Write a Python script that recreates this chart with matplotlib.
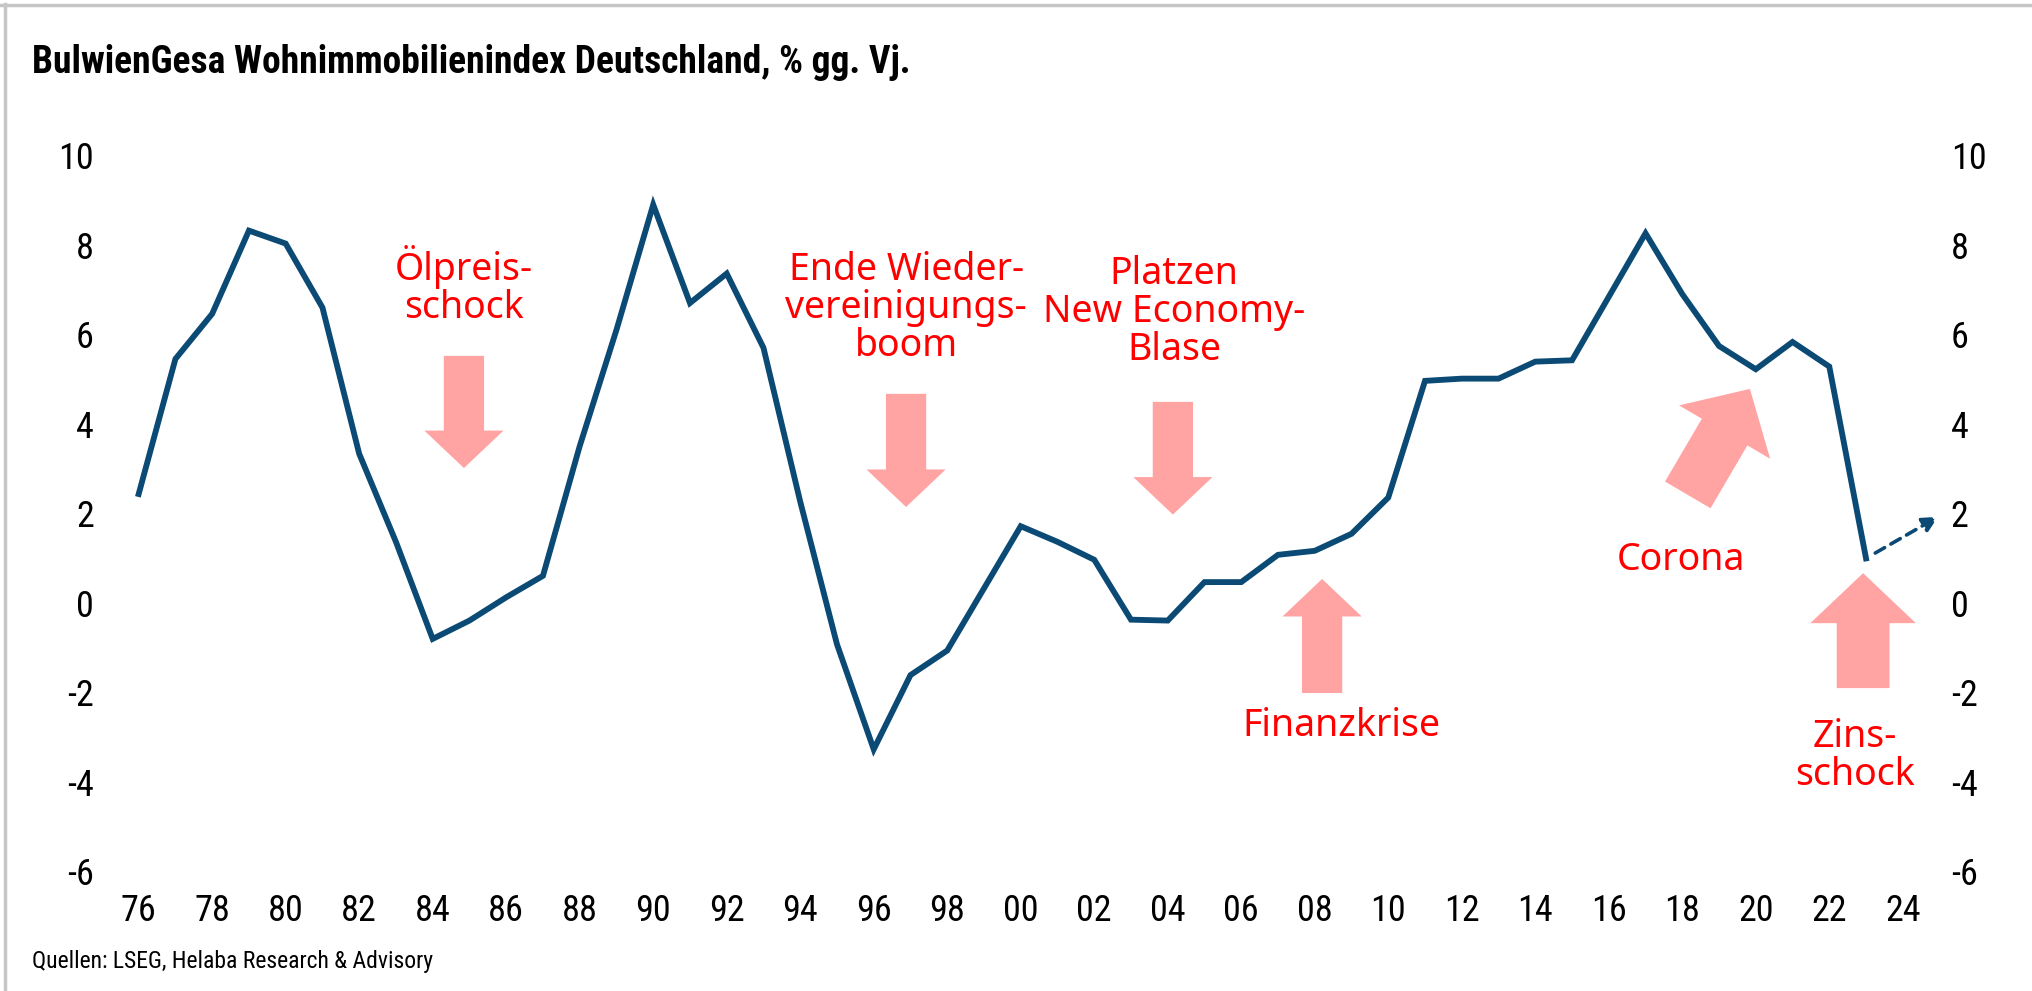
import numpy as np
import matplotlib.pyplot as plt
from matplotlib.lines import Line2D
from matplotlib import font_manager

# BulwienGesa Wohnimmobilienindex, % gg. Vj.
years = list(range(1976, 2024))
values = [2.43, 5.45, 6.46, 8.32, 8.03, 6.6, 3.33, 1.36, -0.81, -0.4,
          0.12, 0.6, 3.5, 6.1, 8.9, 6.7, 7.36, 5.7, 2.26, -0.93,
          -3.28, -1.62, -1.07, 0.32, 1.71, 1.36, 0.96, -0.38, -0.4, 0.46,
          0.46, 1.07, 1.16, 1.54, 2.35, 4.96, 5.01, 5.01, 5.39, 5.42,
          6.84, 8.26, 6.9, 5.74, 5.22, 5.83, 5.28, 0.99]

tick_years = list(range(1976, 2025, 2))
tick_labels = ["%02d" % (y % 100) for y in tick_years]
yticks = list(range(-6, 11, 2))

# event labels: text, text position, arrow tail, arrow tip, big arrow?
events = [
    ("Ölpreis-\nschock", (1984.85, 7.08), (1984.85, 5.52), (1984.85, 3.01), False),
    ("Ende Wieder-\nvereinigungs-\nboom", (1996.88, 6.59), (1996.88, 4.67), (1996.88, 2.14), False),
    ("Platzen\nNew Economy-\nBlase", (2004.17, 6.49), (2004.14, 4.49), (2004.14, 1.97), False),
    ("Finanzkrise", (2008.72, -2.76), (2008.2, -2.02), (2008.2, 0.53), False),
    ("Corona", (2017.97, 0.95), (2018.15, 2.41), (2019.84, 4.78), True),
    ("Zins-\nschock", (2022.7, -3.42), (2022.92, -1.91), (2022.92, 0.66), True),
]

blue = "#0a4a74"
pink = "#ffa3a3"
red = "#ff0000"

# pick a condensed font if one is around
names = {f.name for f in font_manager.fontManager.ttflist}
narrow = {"family": "DejaVu Sans", "stretch": "condensed"}
for cand in ["Liberation Sans Narrow", "Roboto Condensed", "Open Sans Condensed",
             "Noto Sans Condensed", "DejaVu Sans Condensed"]:
    if cand in names:
        narrow = {"family": cand, "stretch": "normal"}
        break

fig = plt.figure(figsize=(20.32, 9.91), dpi=100)
ax = fig.add_axes([0.0592, 0.1211, 0.9545 - 0.0592, 0.8431 - 0.1211])

ax.plot(years, values, color=blue, lw=4.2, solid_joinstyle="miter", zorder=3)

# dashed outlook arrow after the last point
ax.annotate("", xy=(2024.96, 1.92), xytext=(2023.25, 1.11),
            arrowprops=dict(arrowstyle="-|>,head_length=0.9,head_width=0.45",
                            color=blue, lw=2.6, linestyle=(0, (3, 2)),
                            shrinkA=0, shrinkB=0),
            annotation_clip=False, zorder=3)

for text, tpos, tail, tip, big in events:
    if big:
        style = "simple,head_length=36,head_width=76,tail_width=38"
    else:
        style = "simple,head_length=27,head_width=57,tail_width=29"
    ax.annotate("", xy=tip, xytext=tail,
                arrowprops=dict(arrowstyle=style, mutation_scale=1,
                                color=pink, lw=0, shrinkA=0, shrinkB=0),
                zorder=2)
    ax.text(tpos[0], tpos[1], text, color=red, fontsize=27,
            family="Noto Sans", ha="center", va="center",
            linespacing=1.0, multialignment="center")

ax.set_xlim(1975.5, 2025)
ax.set_ylim(-6, 10)
ax.set_xticks(tick_years)
ax.set_xticklabels(tick_labels, fontsize=26, **narrow)
ax.set_yticks(yticks)
ax.set_yticklabels([str(v) for v in yticks], fontsize=26, **narrow)
ax.tick_params(axis="both", length=0)
ax.tick_params(axis="y", pad=19)
ax.tick_params(axis="x", pad=16)

ax2 = ax.twinx()
ax2.set_ylim(-6, 10)
ax2.set_yticks(yticks)
ax2.set_yticklabels([str(v) for v in yticks], fontsize=26, **narrow)
ax2.tick_params(axis="y", length=0, pad=8)

for a in (ax, ax2):
    for s in a.spines.values():
        s.set_visible(False)

fig.text(0.0158, 0.937, "BulwienGesa Wohnimmobilienindex Deutschland, % gg. Vj.",
         fontsize=27, fontweight="bold", va="center", ha="left", **narrow)
fig.text(0.0158, 0.0293, "Quellen: LSEG, Helaba Research & Advisory",
         fontsize=17, va="center", ha="left", **narrow)

# light grey frame on top and left edge
fig.add_artist(Line2D([0.0, 1.0], [0.9945, 0.9945], color="#c6c6c6", lw=2.5,
                      transform=fig.transFigure))
fig.add_artist(Line2D([0.0027, 0.0027], [0.0, 0.996], color="#c6c6c6", lw=2.5,
                      transform=fig.transFigure))

fig.savefig("out.png", dpi=100)
